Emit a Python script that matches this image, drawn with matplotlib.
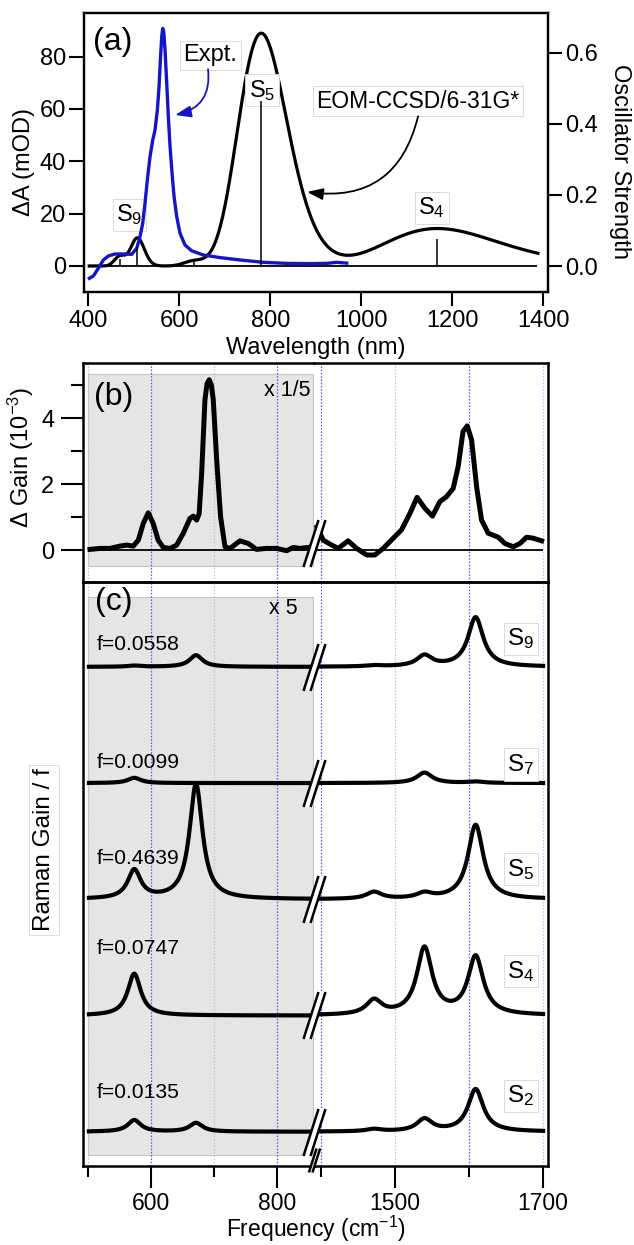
import numpy as np
import matplotlib
matplotlib.use("Agg")
import matplotlib.pyplot as plt
from matplotlib.patches import Rectangle
from matplotlib.path import Path
from matplotlib.markers import MarkerStyle

plt.rcParams['font.family'] = ['Liberation Sans', 'DejaVu Sans']
plt.rcParams['mathtext.fontset'] = 'custom'
plt.rcParams['mathtext.rm'] = 'Liberation Sans'
plt.rcParams['mathtext.it'] = 'Liberation Sans:italic'
plt.rcParams['mathtext.bf'] = 'Liberation Sans:bold'
plt.rcParams['axes.linewidth'] = 1.6

# ---------------- (a) transient absorption and computed transitions ----------------
expt_wl = [402.3, 411.1, 422.0, 433.0, 444.0, 458.7, 476.9, 495.3, 506.3, 513.6,
           519.5, 524.6, 529.7, 535.6, 541.5, 546.6, 551.7, 555.4, 558.3, 561.3,
           563.5, 565.7, 568.6, 572.3, 575.8, 579.6, 584.0, 588.4, 594.3, 601.5,
           612.5, 627.2, 652.7, 689.4, 733.4, 784.6, 836.0, 887.3, 923.9, 945.9, 967.9]
expt_dA = [-4.71, -3.82, -0.89, 2.29, 3.82, 4.59, 4.59, 4.46, 6.75, 11.2,
           16.3, 24.0, 32.9, 41.8, 48.1, 52.0, 59.6, 68.5, 78.7, 87.6,
           90.8, 89.5, 82.5, 69.8, 57.1, 45.6, 35.4, 26.5, 18.8, 12.5,
           8.0, 5.8, 4.2, 3.2, 2.3, 1.4, 1.0, 0.9, 1.0, 1.4, 1.1]

stick_wl = [470, 508, 632, 780, 1167]
stick_f = [0.020, 0.0558, 0.0099, 0.4639, 0.0747]
stick_sigma_ev = [0.07, 0.07, 0.07, 0.110, 0.115]
mod_per_f = 191.8          # mOD per unit oscillator strength for the simulated band

# ---------------- (b) measured Raman gain difference ----------------
gain_lo_x = [502.7, 518.6, 534.4, 550.3, 561.0, 571.4, 579.4, 587.3, 595.2, 603.0,
             611.0, 619.0, 629.7, 640.3, 650.8, 661.4, 666.7, 672.0, 676.0, 680.0,
             685.2, 688.5, 692.0, 695.5, 698.4, 703.8, 710.0, 717.0, 725.0, 740.8,
             754.0, 767.0, 783.0, 799.0, 815.0, 825.4, 836.0, 850.0]
gain_lo_y = [0.02, 0.05, 0.05, 0.12, 0.15, 0.12, 0.30, 0.81, 1.13, 0.81,
             0.30, 0.08, 0.05, 0.15, 0.51, 0.96, 1.03, 0.91, 1.10, 2.34,
             4.56, 5.05, 5.17, 5.00, 4.56, 2.74, 1.01, 0.10, 0.05, 0.28,
             0.20, 0.02, 0.05, 0.05, -0.02, 0.08, 0.05, 0.08]
gain_hi_x = [1395.0, 1403.5, 1412.5, 1423.7, 1437.0, 1448.5, 1462.0, 1473.0, 1484.4, 1497.9,
             1509.0, 1520.3, 1530.0, 1540.5, 1550.8, 1560.7, 1569.7, 1578.7, 1585.4, 1592.0,
             1597.7, 1603.6, 1610.3, 1617.0, 1626.0, 1639.5, 1648.5, 1659.7, 1668.8, 1677.7,
             1686.7, 1698.0]
gain_hi_y = [0.70, 0.30, 0.18, 0.05, 0.28, 0.05, -0.15, -0.15, 0.05, 0.36,
             0.61, 1.11, 1.60, 1.27, 1.03, 1.47, 1.62, 1.87, 2.53, 3.60,
             3.77, 3.34, 1.92, 0.91, 0.51, 0.39, 0.20, 0.10, 0.20, 0.39,
             0.36, 0.28]

# ---------------- (c) computed Raman gain per excited state ----------------
state_names = ["S$_9$", "S$_7$", "S$_5$", "S$_4$", "S$_2$"]
state_f = ["0.0558", "0.0099", "0.4639", "0.0747", "0.0135"]
band_lo = [573, 671]
band_hi = [1472, 1540, 1609]
amp_lo = [[0.01, 0.10], [0.045, 0.0], [0.245, 0.99], [0.36, 0.0], [0.10, 0.075]]
amp_hi = [[0.01, 0.093, 0.425], [0.0, 0.09, 0.012], [0.06, 0.045, 0.64],
          [0.123, 0.575, 0.50], [0.02, 0.105, 0.365]]
state_offset = [4, 3, 2, 1, 0]
band_hwhm = 12.5

# ---------------- layout helpers ----------------
W, H = 634, 1245
fig = plt.figure(figsize=(W / 100, H / 100), dpi=100)


def rect(l, t, r, b):
    return [l / W, 1 - b / H, (r - l) / W, (b - t) / H]


def ftext(x, y, s, **kw):
    return fig.text(x / W, 1 - y / H, s, **kw)


label_box = dict(boxstyle='square,pad=0.15', fc='white', ec='#d6d6d6', lw=0.6)
TICK_FS = 17
LABEL_FS = 17

# ================= panel (a) =================
ax_a = fig.add_axes(rect(84, 13.3, 547.5, 292))
ax_a.set_xlim(390.5, 1409)
ax_a.set_ylim(-9.94, 96.56)
ax_a.set_xticks([400, 600, 800, 1000, 1200, 1400])
ax_a.set_yticks([0, 20, 40, 60, 80])
ax_a.tick_params(axis='x', direction='out', length=10, width=1.5, labelsize=TICK_FS, pad=3, top=False)
ax_a.tick_params(axis='y', direction='out', length=11, width=1.5, labelsize=TICK_FS, pad=2, right=False)

ax_f = ax_a.twinx()
ax_f.set_ylim(-0.0731, 0.7108)
ax_f.set_yticks([0.0, 0.2, 0.4, 0.6])
ax_f.set_yticklabels(['0.0', '0.2', '0.4', '0.6'])
ax_f.tick_params(axis='y', direction='out', length=10, width=1.5, labelsize=TICK_FS, pad=3)

ax_a.hlines(0, 400, 1385, color='black', lw=1.3, zorder=2)

wl_grid = np.linspace(402, 1388, 900)
e_grid = 1239.84 / wl_grid
sim = np.zeros_like(wl_grid)
for wl0, f0, s0 in zip(stick_wl, stick_f, stick_sigma_ev):
    sim += f0 * mod_per_f * np.exp(-0.5 * ((e_grid - 1239.84 / wl0) / s0) ** 2)
ax_a.plot(wl_grid, sim, color='black', lw=2.3, zorder=3)
ax_a.plot(expt_wl, expt_dA, color='#1414c8', lw=2.4, zorder=4, solid_joinstyle='round')
ax_f.vlines(stick_wl, 0, stick_f, color='black', lw=1.1)

ax_a.text(453, 85.6, "(a)", fontsize=23, ha='center', va='center')
ax_a.text(667.5, 80.6, "Expt.", fontsize=17, ha='center', va='center', bbox=label_box)
ax_a.text(1124.6, 62.9, "EOM-CCSD/6-31G*", fontsize=16.5, ha='center', va='center', bbox=label_box)
ax_a.text(781.8, 67.1, "S$_5$", fontsize=17, ha='center', va='center', bbox=label_box)
ax_a.text(490.5, 19.5, "S$_9$", fontsize=17, ha='center', va='center', bbox=label_box)
ax_a.text(1154.3, 22.2, "S$_4$", fontsize=17, ha='center', va='center', bbox=label_box)

ax_a.annotate("", xy=(590.8, 57.7), xytext=(663.1, 75.2),
              arrowprops=dict(arrowstyle='-|>,head_length=0.6,head_width=0.22',
                              connectionstyle='arc3,rad=-0.45', color='#1414c8',
                              lw=1.3, shrinkA=0, shrinkB=0, mutation_scale=16))
ax_a.annotate("", xy=(880.7, 28.3), xytext=(1124.6, 57.2),
              arrowprops=dict(arrowstyle='-|>,head_length=0.6,head_width=0.22',
                              connectionstyle='arc3,rad=-0.45', color='black',
                              lw=1.3, shrinkA=0, shrinkB=0, mutation_scale=16))

ftext(24, 161.7, "ΔA (mOD)", fontsize=LABEL_FS, rotation=90, ha='center', va='center')
ftext(620, 161.7, "Oscillator Strength", fontsize=LABEL_FS, rotation=270, ha='center', va='center')
ftext(316, 348, "Wavelength (nm)", fontsize=LABEL_FS, ha='center', va='center')

# ================= panels (b) and (c): broken frequency axis =================
lo_lim = (492.1, 858.3)
hi_lim = (1391.0, 1707.0)
bx_l = fig.add_axes(rect(83.3, 363.3, 314, 582))
bx_r = fig.add_axes(rect(314, 363.3, 548.3, 582))
cx_l = fig.add_axes(rect(83.3, 582, 314, 1166))
cx_r = fig.add_axes(rect(314, 582, 548.3, 1166))

for ax in (bx_l, cx_l):
    ax.set_xlim(*lo_lim)
    ax.spines['right'].set_visible(False)
for ax in (bx_r, cx_r):
    ax.set_xlim(*hi_lim)
    ax.spines['left'].set_visible(False)
for ax in (bx_l, bx_r, cx_l, cx_r):
    for sp in ax.spines.values():
        sp.set_linewidth(1.8)
    ax.set_facecolor('none')

for ax in (bx_l, bx_r):
    ax.set_ylim(-0.97, 5.67)
for ax in (cx_l, cx_r):
    ax.set_ylim(-0.295, 4.73)

# guide lines at every 100 cm-1
grid_dark = dict(color='#5c5cf0', lw=0.9, ls=(0, (1.3, 1.3)), zorder=1)
grid_light = dict(color='#c2c2f2', lw=0.9, ls=(0, (1.3, 1.3)), zorder=1)
for ax in (bx_l, cx_l):
    for xv in (500, 700):
        ax.axvline(xv, **grid_light)
    for xv in (600, 800):
        ax.axvline(xv, **grid_dark)
for ax in (bx_r, cx_r):
    for xv in (1500, 1700):
        ax.axvline(xv, **grid_light)
    for xv in (1400, 1600):
        ax.axvline(xv, **grid_dark)

# shaded low-frequency window
bx_l.add_patch(Rectangle((500, -0.49), 857.0 - 500, 5.35 + 0.49, fc='#e5e5e5',
                         ec='#c4c4c4', lw=0.8, zorder=0))
cx_l.add_patch(Rectangle((500, -0.20), 857.0 - 500, 4.604 + 0.20, fc='#e5e5e5',
                         ec='#c4c4c4', lw=0.8, zorder=0))

# ticks
bx_l.set_yticks([0, 2, 4])
bx_l.set_yticks([1, 3, 5], minor=True)
bx_l.tick_params(axis='y', which='major', direction='out', length=16, width=1.5,
                 labelsize=TICK_FS, pad=5)
bx_l.tick_params(axis='y', which='minor', direction='out', length=9, width=1.5)
bx_l.tick_params(axis='x', which='both', bottom=False, labelbottom=False)
bx_r.tick_params(axis='both', which='both', left=False, bottom=False,
                 labelleft=False, labelbottom=False)

cx_l.set_xticks([600, 800])
cx_l.set_xticks([500, 700], minor=True)
cx_r.set_xticks([1500, 1700])
cx_r.set_xticks([1400, 1600], minor=True)
for ax in (cx_l, cx_r):
    ax.tick_params(axis='x', which='major', direction='out', length=16, width=1.5,
                   labelsize=16.5, pad=3)
    ax.tick_params(axis='x', which='minor', direction='out', length=8, width=1.5)
    ax.tick_params(axis='y', which='both', left=False, labelleft=False)

# (b) traces
bx_l.hlines(0, 500, lo_lim[1], color='black', lw=1.3, zorder=2)
bx_r.hlines(0, hi_lim[0], 1700, color='black', lw=1.3, zorder=2)
bx_l.plot(gain_lo_x, gain_lo_y, color='black', lw=3.6, zorder=3, solid_joinstyle='round')
bx_r.plot(gain_hi_x, gain_hi_y, color='black', lw=3.6, zorder=3, solid_joinstyle='round')

# (c) traces: Lorentzian bands per state
nu_lo = np.linspace(501, 852, 700)
nu_hi = np.linspace(1393, 1700, 700)
for off, a_lo, a_hi in zip(state_offset, amp_lo, amp_hi):
    y_lo = np.full_like(nu_lo, float(off))
    for c, a in zip(band_lo, a_lo):
        y_lo += a * band_hwhm ** 2 / ((nu_lo - c) ** 2 + band_hwhm ** 2)
    y_hi = np.full_like(nu_hi, float(off))
    for c, a in zip(band_hi, a_hi):
        y_hi += a * band_hwhm ** 2 / ((nu_hi - c) ** 2 + band_hwhm ** 2)
    cx_l.plot(nu_lo, y_lo, color='black', lw=3.0, zorder=3)
    cx_r.plot(nu_hi, y_hi, color='black', lw=3.0, zorder=3)

# axis-break marks
hh, sh, gp = 23.5, 7.5, 3.5
band_path = Path([(-sh - gp, -hh), (sh - gp, hh), (sh + gp, hh), (-sh + gp, -hh), (-sh - gp, -hh)],
                 [Path.MOVETO, Path.LINETO, Path.LINETO, Path.LINETO, Path.CLOSEPOLY])
pair_path = Path([(-sh - gp, -hh), (sh - gp, hh), (-sh + gp, -hh), (sh + gp, hh)],
                 [Path.MOVETO, Path.LINETO, Path.MOVETO, Path.LINETO])


def break_mark(ax, x, y, size_px=47):
    ms = size_px * 0.72
    ax.plot([x], [y], ls='none', marker=MarkerStyle(band_path), ms=ms, mfc='white',
            mec='white', mew=0.5, clip_on=False, zorder=20)
    ax.plot([x], [y], ls='none', marker=MarkerStyle(pair_path), ms=ms, mfc='none',
            mec='black', mew=1.8, clip_on=False, zorder=21)


break_mark(bx_r, hi_lim[0], 0.2)
for off in state_offset:
    break_mark(cx_r, hi_lim[0], off)
break_mark(cx_r, hi_lim[0], -0.2435, size_px=24)

# labels in (b) and (c)
ftext(114, 397, "(b)", fontsize=23, ha='center', va='center')
ftext(311, 390, "x 1/5", fontsize=15.5, ha='right', va='center')
ftext(114, 602, "(c)", fontsize=23, ha='center', va='center')
ftext(298, 608, "x 5", fontsize=15.5, ha='right', va='center')

f_label_y = [4.19, 3.175, 2.355, 1.58, 0.336]
s_label_y = [4.24, 3.16, 2.26, 1.38, 0.307]
for fv, name, fy, sy in zip(state_f, state_names, f_label_y, s_label_y):
    cx_l.text(513.3, fy, "f=" + fv, fontsize=15.2, ha='left', va='center', zorder=5)
    cx_r.text(1670, sy, name, fontsize=17.5, ha='center', va='center', bbox=label_box, zorder=5)

ftext(21, 457, "Δ Gain (10$^{-3}$)", fontsize=LABEL_FS, rotation=90, ha='center', va='center')
ftext(44, 850, "Raman Gain / f", fontsize=17.5, rotation=90, ha='center', va='center', bbox=label_box)
ftext(316, 1244, "Frequency (cm$^{-1}$)", fontsize=16.5, ha='center', va='bottom')

fig.savefig("out.png", dpi=100)
